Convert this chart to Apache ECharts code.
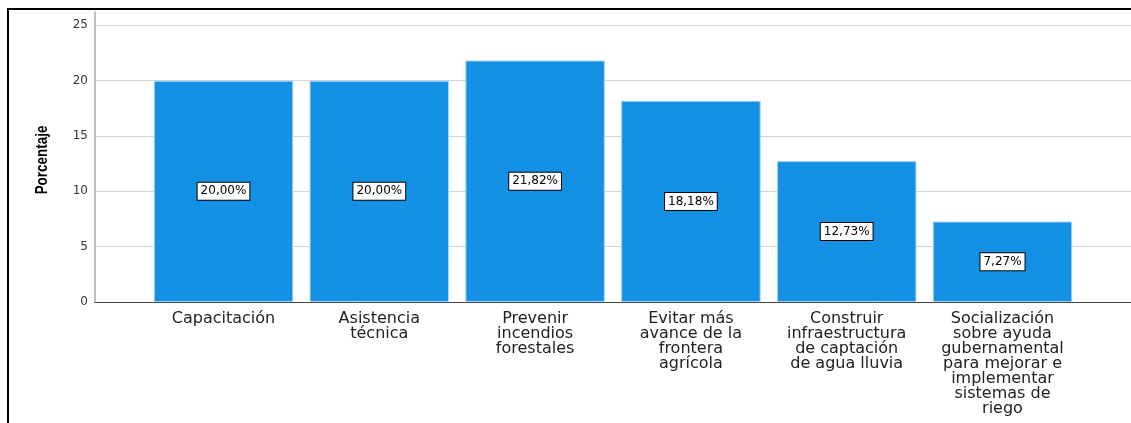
<!DOCTYPE html>
<html><head><meta charset="utf-8">
<script src="https://cdn.jsdelivr.net/npm/echarts@6/dist/echarts.min.js"></script>
<style>html,body{margin:0;padding:0;background:#fff}#c{width:1131px;height:423px}</style>
</head><body><div id="c"></div>
<script>
const categories = [
  "Capacitación",
  "Asistencia\ntécnica",
  "Prevenir\nincendios\nforestales",
  "Evitar más\navance de la\nfrontera\nagrícola",
  "Construir\ninfraestructura\nde captación\nde agua lluvia",
  "Socialización\nsobre ayuda\ngubernamental\npara mejorar e\nimplementar\nsistemas de\nriego"
];
const values = [20.00, 20.00, 21.82, 18.18, 12.73, 7.27];
const yTicks = [0, 5, 10, 15, 20, 25];
const yAxisName = "Porcentaje";

const Y_MAX = 26.2;
const chart = echarts.init(document.getElementById('c'), null, {renderer: 'canvas'});
chart.setOption({
  animation: false,
  backgroundColor: '#ffffff',
  graphic: [{
    type: 'rect', z: 100,
    shape: {x: 8, y: 9, width: 1300, height: 600},
    style: {fill: 'none', stroke: '#000', lineWidth: 2}
  }, {
    type: 'text', z: 100, x: 43, y: 160, rotation: Math.PI / 2, scaleX: 0.84,
    style: {text: yAxisName, fill: '#000', align: 'center', verticalAlign: 'middle',
      font: 'bold 16px "Liberation Sans", Arial, sans-serif'}
  }],
  grid: [
    {left: 95, right: 0, top: 12, bottom: 121},
    {left: 145.6, right: 50.6, top: 12, bottom: 121}
  ],
  xAxis: [
    {type: 'value', gridIndex: 0, min: 0, max: 1,
     axisLine: {show: true, lineStyle: {color: '#444', width: 1}},
     axisTick: {show: false}, axisLabel: {show: false}, splitLine: {show: false}},
    {type: 'category', gridIndex: 1, data: categories,
     axisLine: {show: false}, axisTick: {show: false},
     axisLabel: {interval: 0, margin: 9, color: '#222',
       fontFamily: 'DejaVu Sans', fontSize: 16, lineHeight: 15, align: 'center'}}
  ],
  yAxis: [
    {type: 'value', gridIndex: 0, min: 0, max: Y_MAX, interval: 5,
     axisLine: {show: true, lineStyle: {color: '#a8a8a8', width: 1.5}},
     axisTick: {show: false},
     axisLabel: {color: '#333', fontFamily: 'DejaVu Sans', fontSize: 12, margin: 7, showMaxLabel: false,
       formatter: v => yTicks.includes(v) ? String(v) : ''},
     splitLine: {show: true, showMaxLine: false, lineStyle: {color: '#d4d4d4', width: 1.2}}},
    {type: 'value', gridIndex: 1, min: 0, max: Y_MAX, interval: 5, show: false,
     splitLine: {show: false}}
  ],
  series: [{
    type: 'bar', xAxisIndex: 1, yAxisIndex: 1, data: values, barWidth: 139.5,
    itemStyle: {color: '#1490E4', borderColor: '#a9d5f5', borderWidth: 1},
    label: {show: true, position: 'inside',
      formatter: p => p.value.toFixed(2).replace('.', ',') + '%',
      fontFamily: 'DejaVu Sans', fontSize: 12, color: '#000',
      backgroundColor: '#fff', borderColor: '#000', borderWidth: 1, padding: [3, 3, 2, 3]}
  }]
});
</script></body></html>
